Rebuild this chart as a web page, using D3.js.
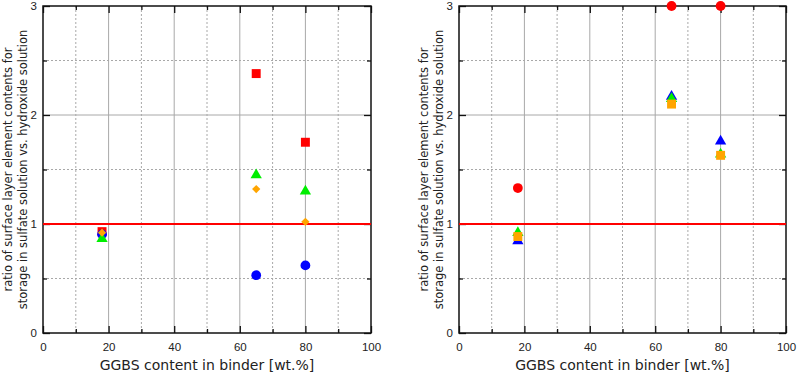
<!DOCTYPE html>
<html>
<head>
    <meta charset="utf-8">
    <style>
        body { margin: 0; background: #fff; }
        svg { font-family: 'DejaVu Sans', sans-serif; }
        .grid-major line { stroke: #a8a8a8; stroke-width: 1; }
        .grid-minor line { stroke: #a8a8a8; stroke-width: 1; stroke-dasharray: 2,2; }
        .tick text { font-size: 11.5px; fill: #222; }
        .axis-title { font-size: 14px; fill: #222; }
        .y-title { font-size: 11.5px; fill: #222; }
    </style>
</head>
<body>
<svg width="799" height="373"></svg>
<script src="https://d3js.org/d3.v7.min.js"></script>
<script>
    // GGBS content of the three binders
    let ggbs = [18, 65, 80];

    // left panel
    let leftSquare = [0.93, 2.38, 1.75];    // red squares
    let leftCircle = [0.905, 0.53, 0.62];   // blue circles
    let leftTriangle = [0.865, 1.45, 1.30]; // green triangles
    let leftDiamond = [0.92, 1.32, 1.02];   // orange diamonds

    // right panel
    let rightCircle = [1.33, 3.0, 3.0];     // red circles
    let rightBlueTri = [0.845, 2.17, 1.76]; // blue triangles
    let rightGreenTri = [0.92, 2.15, 1.64]; // green triangles
    let rightSquare = [0.885, 2.10, 1.63];  // orange squares

    let xTicks = [0, 20, 40, 60, 80, 100];
    let xMinor = [10, 30, 50, 70, 90];
    let yTicks = [0, 1, 2, 3];
    let yMinor = [0.5, 1.5, 2.5];
    let refLine = 1;

    let svg = d3.select("svg");

    let plotTop = 6, plotBottom = 333;
    let fmt = d3.format("d");

    function panel(left, right, series) {
        let g = svg.append("g");

        let x = d3.scaleLinear().domain([0, 100]).range([left, right]);
        let y = d3.scaleLinear().domain([0, 3]).range([plotBottom, plotTop]);

        // grid
        g.append("g").attr("class", "grid-minor")
            .selectAll("line").data(xMinor).join("line")
            .attr("x1", d => x(d)).attr("x2", d => x(d))
            .attr("y1", plotTop).attr("y2", plotBottom);
        g.append("g").attr("class", "grid-minor")
            .selectAll("line").data(yMinor).join("line")
            .attr("y1", d => y(d)).attr("y2", d => y(d))
            .attr("x1", left).attr("x2", right);
        g.append("g").attr("class", "grid-major")
            .selectAll("line").data(xTicks.slice(1, -1)).join("line")
            .attr("x1", d => x(d)).attr("x2", d => x(d))
            .attr("y1", plotTop).attr("y2", plotBottom);
        g.append("g").attr("class", "grid-major")
            .selectAll("line").data(yTicks.slice(1, -1)).join("line")
            .attr("y1", d => y(d)).attr("y2", d => y(d))
            .attr("x1", left).attr("x2", right);

        // axes with inward ticks
        g.append("g")
            .attr("transform", `translate(0,${plotBottom})`)
            .call(d3.axisBottom(x).tickValues(xTicks).tickFormat(fmt).tickSize(-7).tickPadding(10))
            .call(a => a.select(".domain").remove());
        g.append("g")
            .attr("transform", `translate(0,${plotBottom})`)
            .call(d3.axisBottom(x).tickValues(xMinor).tickSize(-4).tickFormat(""))
            .call(a => a.select(".domain").remove());
        g.append("g")
            .attr("transform", `translate(0,${plotTop})`)
            .call(d3.axisTop(x).tickValues(xTicks).tickSize(-7).tickFormat(""))
            .call(a => a.select(".domain").remove());
        g.append("g")
            .attr("transform", `translate(0,${plotTop})`)
            .call(d3.axisTop(x).tickValues(xMinor).tickSize(-4).tickFormat(""))
            .call(a => a.select(".domain").remove());
        g.append("g")
            .attr("transform", `translate(${left},0)`)
            .call(d3.axisLeft(y).tickValues(yTicks).tickFormat(fmt).tickSize(-7).tickPadding(6))
            .call(a => a.select(".domain").remove());
        g.append("g")
            .attr("transform", `translate(${left},0)`)
            .call(d3.axisLeft(y).tickValues(yMinor).tickSize(-4).tickFormat(""))
            .call(a => a.select(".domain").remove());
        g.append("g")
            .attr("transform", `translate(${right},0)`)
            .call(d3.axisRight(y).tickValues(yTicks).tickSize(-7).tickFormat(""))
            .call(a => a.select(".domain").remove());
        g.append("g")
            .attr("transform", `translate(${right},0)`)
            .call(d3.axisRight(y).tickValues(yMinor).tickSize(-4).tickFormat(""))
            .call(a => a.select(".domain").remove());
        g.selectAll(".tick line").attr("stroke", "#111").attr("stroke-width", 1.3);

        // frame
        g.append("rect")
            .attr("x", left).attr("y", plotTop)
            .attr("width", right - left).attr("height", plotBottom - plotTop)
            .attr("fill", "none").attr("stroke", "#111").attr("stroke-width", 1.5);

        // reference line at ratio = 1
        g.append("line")
            .attr("x1", left).attr("x2", right)
            .attr("y1", y(refLine)).attr("y2", y(refLine))
            .attr("stroke", "#ff0000").attr("stroke-width", 2);

        // markers
        series.forEach(s => {
            g.append("g").selectAll("path")
                .data(ggbs.map((v, i) => [v, s.values[i]]))
                .join("path")
                .attr("d", d3.symbol().type(s.type).size(s.size))
                .attr("transform", d => `translate(${x(d[0])},${y(d[1])})${s.rotate ? " rotate(45)" : ""}`)
                .attr("fill", s.color);
        });

        // titles
        g.append("text")
            .attr("class", "axis-title")
            .attr("x", (left + right) / 2).attr("y", 370)
            .attr("text-anchor", "middle")
            .text("GGBS content in binder [wt.%]");

        let cy = (plotTop + plotBottom) / 2;
        let yt = g.append("text")
            .attr("class", "y-title")
            .attr("text-anchor", "middle")
            .attr("transform", `translate(${left - 31},${cy}) rotate(-90)`);
        yt.append("tspan").attr("x", 0).attr("y", 0)
            .text("ratio of surface layer element contents for");
        yt.append("tspan").attr("x", 0).attr("y", 14.5)
            .text("storage in sulfate solution vs. hydroxide solution");
    }

    panel(43, 371, [
        { values: leftSquare, type: d3.symbolSquare, size: 80, color: "#ff0000" },
        { values: leftCircle, type: d3.symbolCircle, size: 75, color: "#0000ff" },
        { values: leftTriangle, type: d3.symbolTriangle, size: 55, color: "#00ee00" },
        { values: leftDiamond, type: d3.symbolSquare, size: 34, color: "#ffa500", rotate: true }
    ]);

    panel(459, 786, [
        { values: rightBlueTri, type: d3.symbolTriangle, size: 55, color: "#0000ff" },
        { values: rightGreenTri, type: d3.symbolTriangle, size: 55, color: "#00ee00" },
        { values: rightSquare, type: d3.symbolSquare, size: 80, color: "#ffa500" },
        { values: rightCircle, type: d3.symbolCircle, size: 75, color: "#ff0000" }
    ]);
</script>
</body>
</html>
